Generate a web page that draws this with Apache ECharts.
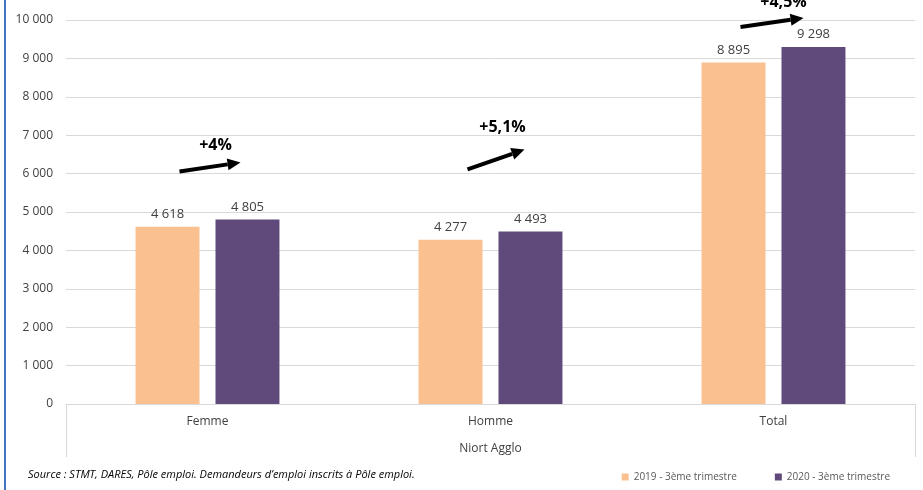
<!DOCTYPE html>
<html><head><meta charset="utf-8">
<script src="https://cdn.jsdelivr.net/npm/echarts@6/dist/echarts.min.js"></script>
<style>html,body{margin:0;padding:0;background:#fff}#c{width:923px;height:490px}</style>
</head><body><div id="c"></div>
<script>
const categories = ['Femme', 'Homme', 'Total'];
const groupLabel = ['Niort Agglo'];
const series2019 = [4618, 4277, 8895];
const series2020 = [4805, 4493, 9298];
const seriesNames = ['2019 - 3ème trimestre', '2020 - 3ème trimestre'];
const changeLabels = ['+4%', '+5,1%', '+4,5%'];
const yTicks = [0, 1000, 2000, 3000, 4000, 5000, 6000, 7000, 8000, 9000, 10000];

const fmt = v => String(v).replace(/\B(?=(\d{3})+(?!\d))/g, ' ');
const font = 'Open Sans';
const chart = echarts.init(document.getElementById('c'));
const labelOpt = {show: true, position: 'top', distance: 6, color: '#404040', fontSize: 13, fontFamily: font, formatter: p => fmt(p.value)};
chart.setOption({
  animation: false,
  grid: {left: 66, right: 8, top: 20, bottom: 86},
  legend: {
    right: 28, bottom: 3, itemWidth: 7, itemHeight: 7, itemGap: 38, icon: 'rect',
    textStyle: {fontSize: 10, color: '#595959', fontFamily: font}
  },
  xAxis: [{
    type: 'category', data: categories,
    axisLine: {lineStyle: {color: '#d9d9d9'}},
    axisTick: {show: false},
    axisLabel: {color: '#404040', fontSize: 12, fontFamily: font, margin: 12}
  }, {
    type: 'category', data: groupLabel, position: 'bottom',
    axisLine: {show: false},
    axisTick: {show: true, length: 53, lineStyle: {color: '#d9d9d9'}},
    axisLabel: {color: '#404040', fontSize: 12, fontFamily: font, margin: 39}
  }],
  yAxis: {
    type: 'value', min: yTicks[0], max: yTicks[yTicks.length - 1], interval: 1000,
    axisLine: {show: false}, axisTick: {show: false},
    splitLine: {lineStyle: {color: '#d9d9d9'}},
    axisLabel: {color: '#404040', fontSize: 12, fontFamily: font, margin: 13, formatter: v => fmt(v)}
  },
  series: [{
    name: seriesNames[0], type: 'bar', data: series2019, barWidth: '22.6%', barGap: '25%',
    itemStyle: {color: '#FAC090'}, label: labelOpt
  }, {
    name: seriesNames[1], type: 'bar', data: series2020, barWidth: '22.6%', barGap: '25%',
    itemStyle: {color: '#604A7B'}, label: labelOpt
  }]
});

// annotation arrows placed relative to each category and its 2020 value
const arrowOffsets = [
  {x0: -28, y0: -48, x1: 33, y1: -57, tx: 8, ty: -74},
  {x0: -23, y0: -62, x1: 34, y1: -82, tx: 12, ty: -104},
  {x0: -33, y0: -20, x1: 30, y1: -29, tx: 10, ty: -45}
];
const g = [];
categories.forEach((c, i) => {
  const p = chart.convertToPixel({xAxisIndex: 0, yAxisIndex: 0}, [c, series2020[i]]);
  const o = arrowOffsets[i];
  const x0 = p[0] + o.x0, y0 = p[1] + o.y0, x1 = p[0] + o.x1, y1 = p[1] + o.y1;
  const ang = Math.atan2(y1 - y0, x1 - x0);
  const hl = 13, hw = 6;
  const bx = x1 - hl * Math.cos(ang), by = y1 - hl * Math.sin(ang);
  g.push({type: 'line', shape: {x1: x0, y1: y0, x2: bx, y2: by}, style: {stroke: '#000', lineWidth: 4}, z: 100});
  g.push({type: 'polygon', shape: {points: [[x1, y1], [bx - hw * Math.sin(ang), by + hw * Math.cos(ang)], [bx + hw * Math.sin(ang), by - hw * Math.cos(ang)]]}, style: {fill: '#000'}, z: 100});
  g.push({type: 'text', x: p[0] + o.tx, y: p[1] + o.ty, style: {text: changeLabels[i], font: 'bold 16px "Open Sans"', fill: '#000', align: 'center', verticalAlign: 'middle'}, z: 100});
});
g.push({type: 'rect', shape: {x: 4, y: 0, width: 2, height: 490}, style: {fill: '#4472C4'}, z: 100});
g.push({type: 'text', left: 28, top: 469, style: {text: 'Source : STMT, DARES, Pôle emploi. Demandeurs d\u2019emploi inscrits à Pôle emploi.', font: 'italic 11px "Open Sans"', fill: '#000'}});
chart.setOption({graphic: g});
</script></body></html>
